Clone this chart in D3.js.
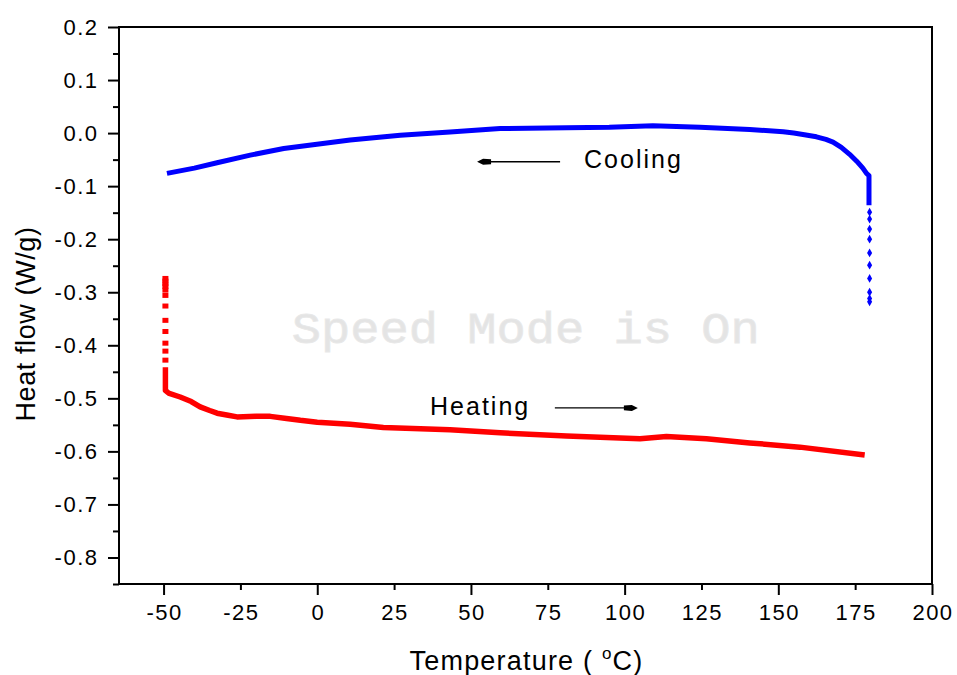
<!DOCTYPE html>
<html>
<head>
<meta charset="utf-8">
<script src="https://cdn.jsdelivr.net/npm/d3@7"></script>
<style>
  body { margin: 0; background: #fff; }
  svg { display: block; }
  text { font-family: "Liberation Sans", Arial, sans-serif; fill: #000; }
</style>
</head>
<body>
<script>
// ---------- data ----------
const coolT  = [-48.9, -40, -32.6, -21.8, -10.9, -0.1, 10.7, 27.0, 43.2, 59.5, 81.1, 95, 109.2, 124.5, 140.7, 151.6, 155, 158.5, 162.4, 165.5, 167.8, 170.5, 173.2, 175.5, 177.5, 178.7, 179.5, 179.5];
const coolHF = [-0.076, -0.066, -0.056, -0.0415, -0.029, -0.021, -0.013, -0.004, 0.002, 0.0085, 0.010, 0.011, 0.014, 0.011, 0.007, 0.0025, 0.000, -0.003, -0.007, -0.012, -0.017, -0.027, -0.040, -0.053, -0.066, -0.076, -0.080, -0.136];
const coolDotT  = [179.7, 179.7, 179.7, 179.7, 179.7, 179.7, 179.7, 179.7, 179.7, 179.7];
const coolDotHF = [-0.149, -0.162, -0.181, -0.200, -0.226, -0.249, -0.274, -0.300, -0.312, -0.318];

const heatT  = [-49.4, -49.4, -48.4, -44.6, -41, -38.1, -35, -32.6, -29, -26.1, -20, -15.3, -10, -5.5, 0, 10.7, 21.5, 43.2, 59.5, 81.1, 105, 113.6, 126.6, 140.7, 157, 178.1];
const heatHF = [-0.4415, -0.485, -0.490, -0.4975, -0.506, -0.516, -0.523, -0.528, -0.532, -0.535, -0.534, -0.534, -0.538, -0.5415, -0.545, -0.549, -0.555, -0.559, -0.565, -0.571, -0.576, -0.572, -0.576, -0.584, -0.592, -0.607];
const heatDotT  = [-49.4, -49.4, -49.4, -49.4, -49.4, -49.4, -49.4, -49.4, -49.4, -49.4, -49.4, -49.4];
const heatDotHF = [-0.274, -0.279, -0.284, -0.289, -0.296, -0.306, -0.326, -0.353, -0.374, -0.396, -0.411, -0.428];

const xMajor = [-50, 0, 50, 100, 150, 200];
const xMinor = [-25, 25, 75, 125, 175];
const xTickValues = [-50, -25, 0, 25, 50, 75, 100, 125, 150, 175, 200];
const xTickLabels = ["-50", "-25", "0", "25", "50", "75", "100", "125", "150", "175", "200"];
const yMajor = [0.2, 0.1, 0.0, -0.1, -0.2, -0.3, -0.4, -0.5, -0.6, -0.7, -0.8];
const yMinor = [0.15, 0.05, -0.05, -0.15, -0.25, -0.35, -0.45, -0.55, -0.65, -0.75, -0.85];
const yTickLabels = ["0.2", "0.1", "0.0", "-0.1", "-0.2", "-0.3", "-0.4", "-0.5", "-0.6", "-0.7", "-0.8"];

const annotLabels = ["Cooling", "Heating"];
const annotT  = [86.8, 36.7];
const annotHF = [-0.066, -0.532];
const arrowFromT = [79, 77.3];
const arrowToT   = [52, 104.3];
const arrowHF    = [-0.054, -0.518];

const watermark = "Speed Mode is On";
const watermarkT = -8.3, watermarkHF = -0.396;

// ---------- layout ----------
const W = 957, H = 675;
const L = 119, R = 932, T = 27, B = 584;

const x = d3.scaleLinear().domain([-64.5, 200]).range([L, R]);
const y = d3.scaleLinear().domain([-0.85, 0.2]).range([B, T]);

const svg = d3.select("body").append("svg").attr("width", W).attr("height", H);

// watermark
svg.append("text")
  .attr("x", x(watermarkT)).attr("y", y(watermarkHF))
  .attr("textLength", 468).attr("lengthAdjust", "spacingAndGlyphs")
  .style("font-family", "'Liberation Mono', 'Courier New', monospace")
  .style("font-size", "44px")
  .style("fill", "#e4e4e4")
  .style("stroke", "#e8e8e8").style("stroke-width", 0.8)
  .text(watermark);

// axes ticks
function styleAxis(g) {
  g.select(".domain").remove();
  g.selectAll(".tick line").attr("stroke", "#000").attr("stroke-width", 2);
}
svg.append("g").attr("transform", `translate(0,${B})`)
  .call(d3.axisBottom(x).tickValues(xMajor).tickSize(11).tickFormat(""))
  .call(styleAxis);
svg.append("g").attr("transform", `translate(0,${B})`)
  .call(d3.axisBottom(x).tickValues(xMinor).tickSize(6).tickFormat(""))
  .call(styleAxis);
svg.append("g").attr("transform", `translate(${L},0)`)
  .call(d3.axisLeft(y).tickValues(yMajor).tickSize(11).tickFormat(""))
  .call(styleAxis);
svg.append("g").attr("transform", `translate(${L},0)`)
  .call(d3.axisLeft(y).tickValues(yMinor).tickSize(6).tickFormat(""))
  .call(styleAxis);

// frame
svg.append("rect")
  .attr("x", L).attr("y", T).attr("width", R - L).attr("height", B - T)
  .attr("fill", "none").attr("stroke", "#000").attr("stroke-width", 2);

// tick labels
svg.append("g").selectAll("text").data(xTickValues).join("text")
  .attr("x", d => x(d) + 1).attr("y", 620)
  .attr("text-anchor", "middle")
  .style("font-size", "22px").style("letter-spacing", "1.5px")
  .text((d, i) => xTickLabels[i]);
svg.append("g").selectAll("text").data(yMajor).join("text")
  .attr("x", L - 20.5).attr("y", d => y(d))
  .attr("dy", "0.35em")
  .attr("text-anchor", "end")
  .style("font-size", "22px").style("letter-spacing", "1.5px")
  .text((d, i) => yTickLabels[i]);

// axis titles
const xt = svg.append("text")
  .attr("x", (L + R) / 2 + 1).attr("y", 670)
  .attr("text-anchor", "middle")
  .style("font-size", "27px").style("letter-spacing", "1.2px");
xt.append("tspan").text("Temperature ( ");
xt.append("tspan").attr("dy", -11).style("font-size", "17px").text("o");
xt.append("tspan").attr("dy", 11).text("C)");

svg.append("text")
  .attr("transform", `translate(35,324) rotate(-90)`)
  .attr("text-anchor", "middle")
  .style("font-size", "27px").style("letter-spacing", "0.6px")
  .text("Heat flow (W/g)");

// curves
const line = d3.line().x(d => x(d[0])).y(d => y(d[1]));
const coolData = coolT.map((t, i) => [t, coolHF[i]]);
const heatData = heatT.map((t, i) => [t, heatHF[i]]);

svg.append("path").datum(coolData)
  .attr("d", line).attr("fill", "none")
  .attr("stroke", "#0000ff").attr("stroke-width", 5)
  .attr("stroke-linejoin", "round");
svg.append("path").datum(heatData)
  .attr("d", line).attr("fill", "none")
  .attr("stroke", "#ff0000").attr("stroke-width", 5.5)
  .attr("stroke-linejoin", "round");

// transient points
svg.append("g").selectAll("path").data(coolDotT.map((t, i) => [t, coolDotHF[i]])).join("path")
  .attr("d", d3.symbol(d3.symbolDiamond, 22))
  .attr("transform", d => `translate(${x(d[0])},${y(d[1])})`)
  .attr("fill", "#0000ff");
svg.append("g").selectAll("rect").data(heatDotT.map((t, i) => [t, heatDotHF[i]])).join("rect")
  .attr("x", d => x(d[0]) - 3).attr("y", d => y(d[1]) - 2.5)
  .attr("width", 6).attr("height", 5)
  .attr("fill", "#ff0000");

// annotations
svg.append("g").selectAll("text").data(annotLabels).join("text")
  .attr("x", (d, i) => x(annotT[i])).attr("y", (d, i) => y(annotHF[i]))
  .style("font-size", "25px").style("letter-spacing", "2px")
  .text(d => d);

const arrows = svg.append("g");
annotLabels.forEach((lab, i) => {
  const x1 = x(arrowFromT[i]), x2 = x(arrowToT[i]), yy = y(arrowHF[i]);
  const dir = Math.sign(x2 - x1);
  arrows.append("line")
    .attr("x1", x1).attr("y1", yy).attr("x2", x2 - dir * 6).attr("y2", yy)
    .attr("stroke", "#000").attr("stroke-width", 1.3);
  const p = d3.path();
  p.moveTo(x2, yy);
  p.lineTo(x2 - dir * 6, yy - 3);
  p.lineTo(x2 - dir * 14, yy - 2.4);
  p.lineTo(x2 - dir * 14, yy + 2.4);
  p.lineTo(x2 - dir * 6, yy + 3);
  p.closePath();
  arrows.append("path").attr("d", p.toString()).attr("fill", "#000");
});
</script>
</body>
</html>
